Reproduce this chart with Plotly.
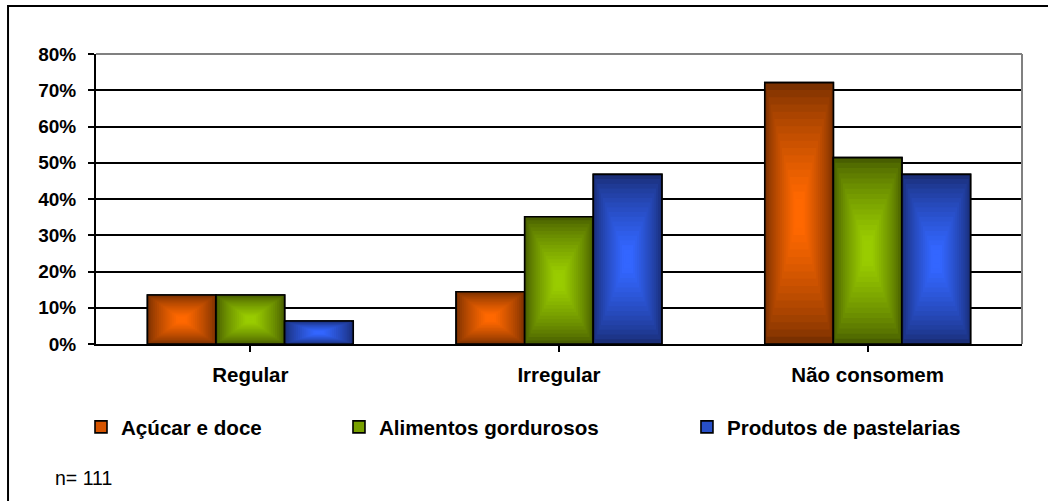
import plotly.graph_objects as go

# Consumption frequency by product group (share of respondents, n = 111)
categories = ["Regular", "Irregular", "Não consomem"]
series_names = ["Açúcar e doce", "Alimentos gordurosos", "Produtos de pastelarias"]
acucar = [0.135, 0.144, 0.721]
gordurosos = [0.135, 0.351, 0.514]
pastelarias = [0.063, 0.468, 0.468]
y_ticks = [0, 0.1, 0.2, 0.3, 0.4, 0.5, 0.6, 0.7, 0.8]
sample_note = "n= 111"

values = [acucar, gordurosos, pastelarias]
# (edge colour, centre colour, legend swatch colour) for the rectangular gradient fill
palettes = [
    ((122, 48, 0), (255, 104, 0), "rgb(214,84,0)"),
    ((72, 94, 0), (153, 204, 0), "rgb(120,160,0)"),
    ((26, 46, 120), (51, 102, 255), "rgb(40,80,200)"),
]

FONT = "Liberation Sans, Arial, sans-serif"
N_LAYERS = 18
bar_w = 1 / 4.5                      # gap width 150 %
offsets = [-1.5 * bar_w, -0.5 * bar_w, 0.5 * bar_w]
xpos = list(range(len(categories)))


def mix(a, b, s):
    return "rgb(%d,%d,%d)" % tuple(round(a[i] + (b[i] - a[i]) * s) for i in range(3))


fig = go.Figure()
legend_ids = ["legend", "legend2", "legend3"]

for si, vals in enumerate(values):
    edge, centre, swatch = palettes[si]
    # full-size bar carrying the legend entry
    fig.add_trace(go.Bar(
        x=xpos, y=vals, width=[bar_w] * 3, offset=[offsets[si]] * 3,
        name=series_names[si], legend=legend_ids[si],
        marker=dict(color=swatch, line=dict(color="black", width=1.6)),
        hoverinfo="skip", showlegend=True,
    ))
    # concentric shrinking bars build the centre-out gradient
    for k in range(N_LAYERS):
        t = k / N_LAYERS
        f = 1 - t
        s = min(1.0, (t / 0.85) ** 0.75) if t > 0 else 0.0
        col = mix(edge, centre, s)
        fig.add_trace(go.Bar(
            x=xpos,
            y=[v * f for v in vals],
            base=[v * t / 2 for v in vals],
            width=[bar_w * f] * 3,
            offset=[offsets[si] + bar_w * t / 2] * 3,
            marker=dict(color=col,
                        line=dict(color="black", width=1.6 if k == 0 else 0)),
            hoverinfo="skip", showlegend=False,
        ))

legend_font = dict(family=FONT, size=20.6, color="black", weight="bold")
legend_common = dict(orientation="h", yanchor="middle", y=-0.286, xanchor="left",
                     font=legend_font, bgcolor="rgba(0,0,0,0)", itemwidth=30,
                     borderwidth=0)

fig.update_layout(
    width=1048, height=501,
    margin=dict(l=96, r=26, t=54, b=157),
    paper_bgcolor="white", plot_bgcolor="white",
    barmode="overlay",
    showlegend=True,
    legend=dict(x=-0.0162, **legend_common),
    legend2=dict(x=0.2624, **legend_common),
    legend3=dict(x=0.6382, **legend_common),
    xaxis=dict(
        range=[-0.5, 2.5],
        tickmode="array", tickvals=xpos, ticktext=categories,
        showgrid=False, zeroline=False,
        showline=True, linecolor="black", linewidth=2,
        ticks="outside", ticklen=6, tickwidth=1.5, tickcolor="black",
        tickfont=dict(family=FONT, size=20.5, color="black", weight="bold"),
        ticklabelstandoff=5,
        fixedrange=True,
    ),
    yaxis=dict(
        range=[0, 0.8], tickvals=y_ticks, tickformat=".0%",
        showgrid=True, gridcolor="black", gridwidth=1.6,
        zeroline=False,
        showline=True, linecolor="black", linewidth=2,
        ticks="outside", ticklen=6, tickwidth=1.5, tickcolor="black",
        tickfont=dict(family=FONT, size=19, color="black", weight="bold"),
        ticklabelstandoff=8,
        fixedrange=True,
    ),
    shapes=[
        # outer chart frame
        dict(type="rect", xref="paper", yref="paper",
             x0=-0.095, x1=1.035, y0=-0.56, y1=1.1655,
             line=dict(color="black", width=2), fillcolor="rgba(0,0,0,0)"),
        # grey plot-area border on the top and right
        dict(type="line", xref="paper", yref="paper", x0=0, x1=1, y0=1, y1=1,
             line=dict(color="#808080", width=2)),
        dict(type="line", xref="paper", yref="paper", x0=1, x1=1, y0=0, y1=1,
             line=dict(color="#808080", width=2)),
    ],
    annotations=[
        dict(text=sample_note, xref="paper", yref="paper", x=-0.0464, y=-0.462,
             xanchor="left", yanchor="middle", showarrow=False,
             font=dict(family=FONT, size=19.5, color="black")),
    ],
)

# tick marks on the category boundaries
fig.update_xaxes(tickson="boundaries")

fig.write_html("out.html")
